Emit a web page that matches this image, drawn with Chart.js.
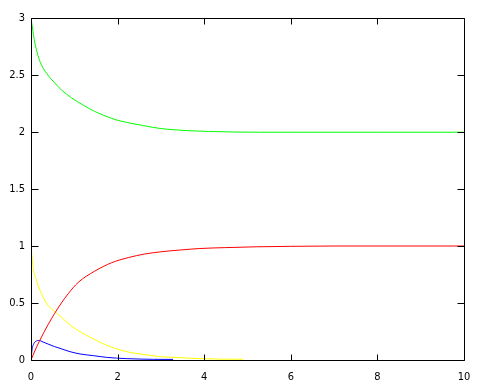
<!DOCTYPE html>
<html>
<head>
<meta charset="utf-8">
<script src="https://cdn.jsdelivr.net/npm/chart.js@4"></script>
<style>
html,body{margin:0;padding:0;background:#fff;}
#wrap{width:496px;height:392px;}
</style>
</head>
<body>
<div id="wrap"><canvas id="c" width="496" height="392"></canvas></div>
<script>
// ---- data ----
const greenT = [0, 0.046, 0.085, 0.162, 0.239, 0.409, 0.548, 0.702, 0.934, 1.165, 1.474, 1.86, 2.06, 2.2, 2.4, 2.6, 2.8, 3.0, 3.3, 3.6, 4.1, 4.7, 5.3, 6, 8, 10];
const greenV = [3.0, 2.88, 2.79, 2.67, 2.59, 2.49, 2.43, 2.37, 2.30, 2.245, 2.18, 2.12, 2.097, 2.085, 2.07, 2.056, 2.042, 2.03, 2.02, 2.012, 2.005, 2.0, 1.998, 1.998, 1.998, 1.998];

const redT = [0, 0.077, 0.2, 0.394, 0.548, 0.702, 0.856, 1.088, 1.474, 1.86, 2.245, 2.63, 3.02, 3.45, 3.9, 4.5, 5.2, 6.0, 7, 10];
const redV = [0, 0.07, 0.17, 0.31, 0.41, 0.50, 0.58, 0.68, 0.78, 0.853, 0.898, 0.93, 0.95, 0.965, 0.978, 0.986, 0.993, 0.997, 1.0, 1.0];

const yellowT = [0, 0.046, 0.124, 0.239, 0.355, 0.548, 0.671, 0.903, 1.134, 1.366, 1.597, 1.83, 2.06, 2.29, 2.52, 2.75, 2.99, 3.37, 3.7, 4.3, 4.9];
const yellowV = [1.0, 0.82, 0.70, 0.585, 0.5, 0.424, 0.386, 0.307, 0.248, 0.199, 0.155, 0.117, 0.088, 0.067, 0.053, 0.041, 0.029, 0.022, 0.015, 0.008, 0.006];

const blueT = [0, 0.023, 0.069, 0.124, 0.18, 0.278, 0.394, 0.548, 0.671, 0.903, 1.134, 1.44, 1.75, 2.2, 2.83, 3.28];
const blueV = [0, 0.088, 0.146, 0.167, 0.172, 0.158, 0.14, 0.117, 0.102, 0.073, 0.053, 0.038, 0.023, 0.012, 0.006, 0.005];

const xTickLabels = ['0', '2', '4', '6', '8', '10'];
const yTickLabels = ['0', '0.5', '1', '1.5', '2', '2.5', '3'];

function pts(t, v) { return t.map((x, i) => ({ x: x, y: v[i] })); }

const FONT = { family: "'DejaVu Sans Condensed', 'Liberation Sans', sans-serif", size: 11 };

const framePlugin = {
  id: 'frameTicks',
  afterDatasetsDraw(chart) {
    const ctx = chart.ctx;
    const a = chart.chartArea;
    const xs = chart.scales.x, ys = chart.scales.y;
    const L = Math.round(a.left) + 0.5, R = Math.round(a.right) + 0.5;
    const T = Math.round(a.top) + 0.5, B = Math.round(a.bottom) + 0.5;
    ctx.save();
    ctx.strokeStyle = '#000';
    ctx.lineWidth = 1;
    ctx.beginPath();
    ctx.rect(L, T, R - L, B - T);
    xs.ticks.forEach(tk => {
      const px = Math.round(xs.getPixelForValue(tk.value)) + 0.5;
      ctx.moveTo(px, B); ctx.lineTo(px, B - 6);
      ctx.moveTo(px, T); ctx.lineTo(px, T + 6);
    });
    ys.ticks.forEach(tk => {
      const py = Math.round(ys.getPixelForValue(tk.value)) + 0.5;
      ctx.moveTo(L, py); ctx.lineTo(L + 7, py);
      ctx.moveTo(R, py); ctx.lineTo(R - 7, py);
    });
    ctx.stroke();
    ctx.restore();
  }
};

const ds = (label, t, v, color) => ({
  label: label,
  data: pts(t, v),
  borderColor: color,
  backgroundColor: color,
  borderWidth: 1,
  pointRadius: 0,
  fill: false,
  cubicInterpolationMode: 'monotone'
});

new Chart(document.getElementById('c'), {
  type: 'line',
  data: {
    datasets: [
      ds('green', greenT, greenV, '#00ff00'),
      ds('red', redT, redV, '#ff0000'),
      ds('yellow', yellowT, yellowV, '#ffff00'),
      ds('blue', blueT, blueV, '#0000ff')
    ]
  },
  options: {
    responsive: false,
    animation: false,
    events: [],
    layout: { padding: { top: 18, right: 32, left: 0, bottom: 0 } },
    plugins: { legend: { display: false }, tooltip: { enabled: false } },
    scales: {
      x: {
        type: 'linear',
        min: 0, max: 10,
        grid: { display: false, drawTicks: false },
        border: { display: false },
        afterFit(s) { s.height = 32; },
        ticks: {
          stepSize: 2,
          padding: 11,
          color: '#000',
          font: FONT,
          maxRotation: 0,
          callback: (v, i) => xTickLabels[i]
        }
      },
      y: {
        type: 'linear',
        min: 0, max: 3,
        grid: { display: false, drawTicks: false },
        border: { display: false },
        afterFit(s) { s.width = 31; },
        ticks: {
          stepSize: 0.5,
          padding: 6,
          color: '#000',
          font: FONT,
          callback: (v, i) => yTickLabels[i]
        }
      }
    }
  },
  plugins: [framePlugin]
});
</script>
</body>
</html>
